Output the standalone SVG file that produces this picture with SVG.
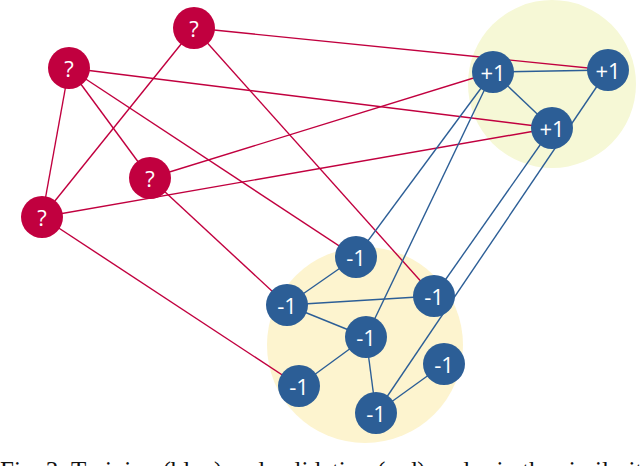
<svg xmlns="http://www.w3.org/2000/svg" width="640" height="466" viewBox="0 0 640 466">
<style>
.r{stroke:#c1003f;stroke-width:1.4;fill:none}
.b{stroke:#2c5e96;stroke-width:1.4;fill:none}
.rn{fill:#c1003f}
.bn{fill:#2c5e96}
.t{fill:#fff;font-family:"Open Sans","DejaVu Sans",sans-serif;font-size:22px;text-anchor:middle;dominant-baseline:central}
.cap{fill:#111;font-family:"Liberation Serif",serif;font-size:25px}
</style>
<g id="clusters">
<circle cx="552" cy="84" r="84" fill="#f6f8d6"/>
<circle cx="365" cy="345" r="98" fill="#fdf4cf"/>
</g>
<g id="connectors">
<line class="r" x1="194" y1="28" x2="608" y2="70"/>
<line class="r" x1="194" y1="28" x2="42" y2="217"/>
<line class="r" x1="194" y1="28" x2="434" y2="296"/>
<line class="r" x1="69" y1="68" x2="552" y2="128"/>
<line class="r" x1="69" y1="68" x2="150" y2="178"/>
<line class="r" x1="69" y1="68" x2="42" y2="217"/>
<line class="r" x1="69" y1="68" x2="356" y2="257"/>
<line class="r" x1="150" y1="178" x2="493" y2="72"/>
<line class="r" x1="150" y1="178" x2="287" y2="305"/>
<line class="r" x1="42" y1="217" x2="552" y2="128"/>
<line class="r" x1="42" y1="217" x2="299" y2="386"/>
<line class="b" x1="493" y1="72" x2="608" y2="70"/>
<line class="b" x1="493" y1="72" x2="552" y2="128"/>
<line class="b" x1="493" y1="72" x2="356" y2="257"/>
<line class="b" x1="493" y1="72" x2="366" y2="337"/>
<line class="b" x1="552" y1="128" x2="434" y2="296"/>
<line class="b" x1="608" y1="70" x2="376" y2="413"/>
<line class="b" x1="356" y1="257" x2="287" y2="305"/>
<line class="b" x1="287" y1="305" x2="434" y2="296"/>
<line class="b" x1="287" y1="305" x2="366" y2="337"/>
<line class="b" x1="366" y1="337" x2="299" y2="386"/>
<line class="b" x1="366" y1="337" x2="376" y2="413"/>
<line class="b" x1="444" y1="364" x2="376" y2="413"/>
</g>
<g id="q1"><circle class="rn" cx="194" cy="28" r="21"/><text class="t" x="194" y="28">?</text></g>
<g id="q2"><circle class="rn" cx="69" cy="68" r="21"/><text class="t" x="69" y="68">?</text></g>
<g id="q3"><circle class="rn" cx="150" cy="178" r="21"/><text class="t" x="150" y="178">?</text></g>
<g id="q4"><circle class="rn" cx="42" cy="217" r="21"/><text class="t" x="42" y="217">?</text></g>
<g id="p1"><circle class="bn" cx="493" cy="72" r="21"/><text class="t" x="493" y="72">+1</text></g>
<g id="p2"><circle class="bn" cx="608" cy="70" r="21"/><text class="t" x="608" y="70">+1</text></g>
<g id="p3"><circle class="bn" cx="552" cy="128" r="21"/><text class="t" x="552" y="128">+1</text></g>
<g id="n1"><circle class="bn" cx="356" cy="257" r="21"/><text class="t" x="356" y="257">-1</text></g>
<g id="n2"><circle class="bn" cx="287" cy="305" r="21"/><text class="t" x="287" y="305">-1</text></g>
<g id="n3"><circle class="bn" cx="434" cy="296" r="21"/><text class="t" x="434" y="296">-1</text></g>
<g id="n4"><circle class="bn" cx="366" cy="337" r="21"/><text class="t" x="366" y="337">-1</text></g>
<g id="n5"><circle class="bn" cx="299" cy="386" r="21"/><text class="t" x="299" y="386">-1</text></g>
<g id="n6"><circle class="bn" cx="444" cy="364" r="21"/><text class="t" x="444" y="364">-1</text></g>
<g id="n7"><circle class="bn" cx="376" cy="413" r="21"/><text class="t" x="376" y="413">-1</text></g>
<text class="cap" x="0" y="479">Fig. 3: Training (blue) and validation (red) nodes in the similarity graph</text>
</svg>
